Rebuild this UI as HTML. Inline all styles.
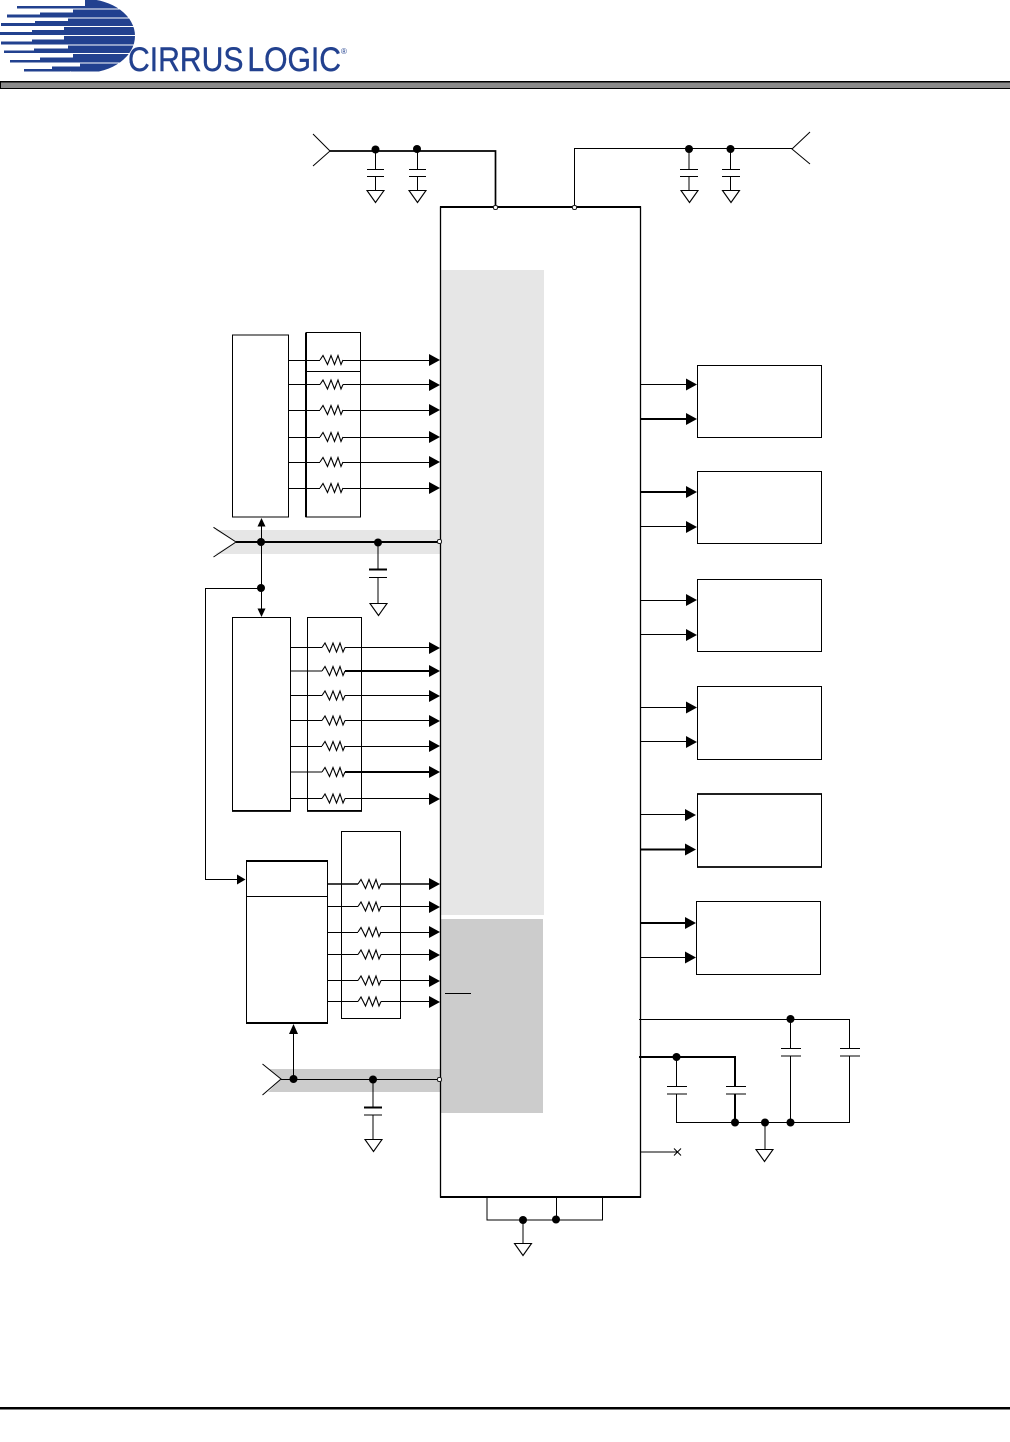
<!DOCTYPE html>
<html lang="en">
<head>
<meta charset="utf-8">
<title>Cirrus Logic typical connection diagram</title>
<style>
html,body{margin:0;padding:0;background:#fff;width:1010px;height:1442px;overflow:hidden}
svg{display:block}
</style>
</head>
<body>
<svg xmlns="http://www.w3.org/2000/svg" width="1010" height="1442" viewBox="0 0 1010 1442">
<defs>
<clipPath id="lg"><ellipse cx="85" cy="36" rx="50" ry="37"/><rect x="0" y="0" width="70" height="72"/></clipPath>
<path id="r" d="M0 0L3-4.5L7.5 4.5L11-4.5L14.5 4.5L18-4.5L21 4.5L23 0" fill="none" stroke="#000" stroke-width="1.100"/>
<path id="a" d="M-11-6L0 0L-11 6Z" fill="#000"/>
<path id="g" d="M-8.500 0H8.500L0 12Z" fill="#fff" stroke="#000" stroke-width="1.100"/>
<circle id="d" r="4" fill="#000"/>
<rect id="o" x="-2" y="-2" width="4" height="4" rx="1.500" fill="#fff" stroke="#222" stroke-width="1"/>
</defs>

<!-- logo -->
<g clip-path="url(#lg)" fill="#22418f">
<path d="M85 0H135V8.500H17V6H85Z"/>
<path d="M73 9.500H135V17.500H7V14.500H40V12.500H73Z"/>
<path d="M68 18.500H135V26H1V23H35V21H68Z"/>
<path d="M64 27H135V35H0V32H32V30H64Z"/>
<path d="M64 36H135V44.500H1V41.500H32V39.500H64Z"/>
<path d="M68 45.500H135V53H4V50.500H34V48.500H68Z"/>
<path d="M73 54H135V62.500H10V60H40V57.500H73Z"/>
<path d="M80 63.500H135V71.500H24V69H52V66.500H80Z"/>
</g>
<text x="128" y="71" font-family="'Liberation Sans',sans-serif" font-size="34" fill="#22418f" stroke="#22418f" stroke-width="0.400" word-spacing="-5" textLength="213" lengthAdjust="spacingAndGlyphs">CIRRUS LOGIC</text>
<text x="341" y="54" font-family="'Liberation Sans',sans-serif" font-size="8" fill="#22418f">®</text>

<!-- header and footer bars -->
<rect x="0.500" y="81.500" width="1010" height="7" fill="#8a8a8a" stroke="#000" stroke-width="1"/>
<rect x="0" y="81" width="1010" height="1.500" fill="#000"/>
<rect x="0" y="1407" width="1010" height="2.500" fill="#000"/>

<!-- shaded regions -->
<rect x="441" y="270" width="103" height="645" fill="#e6e6e6"/>
<rect x="441" y="919" width="102" height="194" fill="#ccc"/>
<path d="M215 530H440V554H215L236 542Z" fill="#e6e6e6"/>
<path d="M268 1069H440V1092H268L281 1079Z" fill="#ccc"/>

<!-- main chip -->
<rect x="440.500" y="207" width="200" height="990" fill="none" stroke="#000" stroke-width="1.300"/>
<path d="M440 207H641M440 1197H641" stroke="#000" stroke-width="2" fill="none"/>
<path d="M445 993.500H471" stroke="#000" stroke-width="1"/>

<g fill="none" stroke="#000" stroke-width="1">
<!-- top left supply -->
<path d="M313 134L330 151L313 166M375.500 150V169M375.500 176V190M417.500 150V169M417.500 176V190"/>
<path d="M330 151H495.500V207" stroke-width="1.700"/>
<path d="M367 169.500H384M367 176.500H384M409 169.500H426M409 176.500H426"/>
<!-- top right supply -->
<path d="M574.500 207V148.500H792M810 132L792 149L810 164M689 150V169M689 176V190M730.500 150V169M730.500 176V190"/>
<path d="M680 169.500H698M680 176.500H698M722 169.500H740M722 176.500H740"/>

<!-- block A -->
<rect x="232.500" y="335" width="56" height="182"/>
<rect x="306" y="332.500" width="54.500" height="184.500"/>
<path d="M306 333V517" stroke-width="2"/>
<path d="M306 371.500H360"/>
<path d="M288 360.500H320M343 360.500H431M288 384.500H320M343 384.500H431M288 410.500H320M343 410.500H431M288 437.500H320M343 437.500H431M288 462.500H320M343 462.500H431M288 488.500H320M343 488.500H431"/>

<!-- light bus -->
<path d="M213.500 527.300L236 542L213.500 557"/>
<path d="M236 542H440" stroke-width="2"/>
<path d="M261.500 525V610M261 588.500H205.500V879.500H238"/>
<path d="M378 542V569M378 577V604"/>
<path d="M369 569.500H387" stroke-width="2"/>
<path d="M369 577.500H387"/>

<!-- block B -->
<rect x="232.500" y="617.500" width="58" height="193"/>
<rect x="307.500" y="617.500" width="54" height="193"/>
<path d="M232 811H291M307 811H362" stroke-width="1.700"/>
<path d="M290 647.500H322M345 647.500H431M290 671H322M290 695.500H322M345 695.500H431M290 720.500H322M345 720.500H431M290 746.500H322M345 746.500H431M290 772H322M290 798.500H322M345 798.500H431"/>
<path d="M345 671H431M345 772H431" stroke-width="2"/>

<!-- block C -->
<rect x="246.500" y="861" width="81" height="162"/>
<path d="M246 861H328M246 1023H328" stroke-width="2"/>
<path d="M246 896.500H328"/>
<rect x="341.500" y="831.500" width="59" height="187"/>
<path d="M327 884H358M381 884H431" stroke-width="1.600"/>
<path d="M327 906.500H358M381 906.500H431M327 932.500H358M381 932.500H431M327 954.500H358M381 954.500H431M327 980.500H358M381 980.500H431M327 1001.500H358M381 1001.500H431"/>

<!-- gray bus -->
<path d="M262.500 1064L281 1079L262.500 1095M281 1079.500H440M293.500 1079V1032M373 1079V1107M373 1115V1139"/>
<path d="M364 1107.500H382" stroke-width="2"/>
<path d="M364 1115H382"/>

<!-- right boxes -->
<rect x="697.500" y="365.500" width="124" height="72"/>
<rect x="697.500" y="471.500" width="124" height="72"/>
<rect x="697.500" y="579.500" width="124" height="72"/>
<rect x="697.500" y="686.500" width="124" height="73"/>
<rect x="697.500" y="794" width="124" height="73"/>
<path d="M697 794H822M697 867H822" stroke-width="1.700"/>
<rect x="696.500" y="901.500" width="124" height="73"/>
<path d="M641 384.500H688M641 526.500H688M641 600.500H688M641 634.500H688M641 707.500H688M641 741.500H688M641 814.500H688M641 957.500H687"/>
<path d="M641 419H688M641 492H688M641 849.500H688M641 923H687" stroke-width="2"/>

<!-- bottom right network -->
<path d="M639 1019.500H849.500V1048M849.500 1056V1122.500H676.500V1094M676.500 1086V1057M790.500 1019V1048M790.500 1056V1122"/>
<path d="M639 1057H735V1086M735 1094V1122" stroke-width="2"/>
<path d="M781 1048.500H801M781 1056H801M840 1048.500H860M840 1056H860M667 1086.500H687M667 1094H687M726 1086.500H746M726 1094H746"/>
<path d="M765 1122V1149M641 1152H677M674 1148.500L681 1155.500M681 1148.500L674 1155.500"/>

<!-- bottom ground -->
<path d="M487 1197V1220H602.500V1197M556.500 1197V1220M523 1220V1243"/>
</g>

<!-- resistors -->
<use href="#r" x="320" y="360"/><use href="#r" x="320" y="384.500"/><use href="#r" x="320" y="410"/><use href="#r" x="320" y="437"/><use href="#r" x="320" y="462"/><use href="#r" x="320" y="488"/>
<use href="#r" x="322" y="647.500"/><use href="#r" x="322" y="671"/><use href="#r" x="322" y="695.500"/><use href="#r" x="322" y="720.500"/><use href="#r" x="322" y="746"/><use href="#r" x="322" y="772"/><use href="#r" x="322" y="798.500"/>
<use href="#r" x="358" y="884"/><use href="#r" x="358" y="906.500"/><use href="#r" x="358" y="932"/><use href="#r" x="358" y="954.500"/><use href="#r" x="358" y="980.500"/><use href="#r" x="358" y="1001.500"/>

<!-- arrowheads -->
<use href="#a" x="440" y="360"/><use href="#a" x="440" y="385"/><use href="#a" x="440" y="410"/><use href="#a" x="440" y="437"/><use href="#a" x="440" y="462"/><use href="#a" x="440" y="488"/>
<use href="#a" x="440" y="648"/><use href="#a" x="440" y="671"/><use href="#a" x="440" y="696"/><use href="#a" x="440" y="721"/><use href="#a" x="440" y="746"/><use href="#a" x="440" y="772"/><use href="#a" x="440" y="799"/>
<use href="#a" x="440" y="884"/><use href="#a" x="440" y="907"/><use href="#a" x="440" y="932"/><use href="#a" x="440" y="955"/><use href="#a" x="440" y="981"/><use href="#a" x="440" y="1002"/>
<use href="#a" x="697" y="384.500"/><use href="#a" x="697" y="419"/><use href="#a" x="697" y="492"/><use href="#a" x="697" y="527"/><use href="#a" x="697" y="600"/><use href="#a" x="697" y="635"/><use href="#a" x="697" y="707.500"/><use href="#a" x="697" y="742"/><use href="#a" x="696" y="815"/><use href="#a" x="696" y="849.500"/><use href="#a" x="696" y="923"/><use href="#a" x="696" y="957.500"/>
<path d="M261.500 518L265.500 526.500H257.500ZM261.500 617L265.500 608.500H257.500ZM245.500 879.500L237 874.500V884.500ZM293.500 1024L298 1034H289Z" fill="#000"/>

<!-- grounds -->
<use href="#g" x="375.500" y="190.500"/><use href="#g" x="417.500" y="190.500"/><use href="#g" x="689.500" y="190.500"/><use href="#g" x="731" y="190.500"/>
<use href="#g" x="378.500" y="603.500"/><use href="#g" x="373.500" y="1139.500"/><use href="#g" x="764.500" y="1149.500"/><use href="#g" x="523" y="1243.500"/>

<!-- junction dots -->
<use href="#d" x="375.500" y="149.500"/><use href="#d" x="417" y="149"/><use href="#d" x="689" y="149"/><use href="#d" x="730.500" y="149"/>
<use href="#d" x="261" y="542"/><use href="#d" x="378" y="542.500"/><use href="#d" x="261" y="588"/>
<use href="#d" x="293.500" y="1079"/><use href="#d" x="373" y="1079.500"/>
<use href="#d" x="790.500" y="1019"/><use href="#d" x="676.500" y="1057"/><use href="#d" x="735" y="1122.500"/><use href="#d" x="765" y="1122.500"/><use href="#d" x="790.500" y="1122.500"/>
<use href="#d" x="523" y="1220"/><use href="#d" x="556" y="1219.500"/>

<!-- open terminals -->
<use href="#o" x="495.500" y="207.500"/><use href="#o" x="574.500" y="207.500"/><use href="#o" x="439.500" y="541.500"/><use href="#o" x="439.500" y="1079.500"/>
</svg>
</body>
</html>
